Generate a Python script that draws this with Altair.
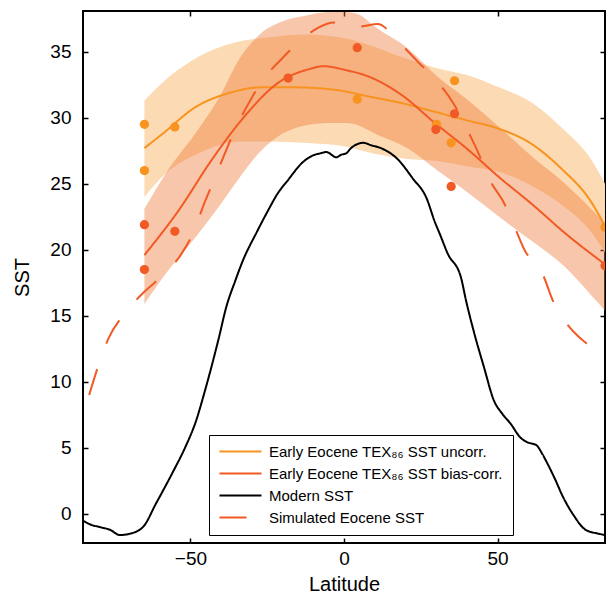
import altair as alt
import pandas as pd

# ---- data ----
unc_lat = [-65, -58, -47.5, -33.5, -24, -13, 0.7, 9.5, 20, 31, 40.5, 50.5, 61.5, 71.5, 80, 85]
unc_lo = [24.0, 25.8, 27.3, 28.2, 28.2, 28.1, 27.8, 27.3, 26.9, 26.7, 26.3, 25.9, 24.8, 23.3, 21.5, 19.8]
unc_hi = [31.3, 32.9, 34.6, 35.8, 36.1, 36.3, 36.0, 35.4, 34.5, 33.7, 33.2, 32.3, 31.1, 29.1, 27.0, 25.0]

bc_lat = [-65, -58, -47.5, -40, -34.5, -27, -20, -13, -5, 0.7, 5, 10, 20.5, 31, 40.5, 50.5, 61.5, 72, 80, 85]
bc_lo = [15.9, 18.2, 21.2, 23.5, 25.3, 27.5, 28.8, 29.4, 29.6, 29.6, 29.4, 28.8, 27.7, 25.9, 24.3, 22.5, 20.6, 18.7, 16.7, 15.4]
bc_hi = [23.1, 25.8, 29.1, 31.8, 34.3, 36.4, 37.3, 37.7, 38.0, 38.0, 37.8, 36.9, 35.3, 33.0, 31.3, 29.3, 27.0, 25.0, 23.2, 22.0]

of_lat = [-65, -59, -48.4, -37.7, -27, -16.3, -2.5, 8.2, 18.9, 29.6, 40, 50, 60.5, 71, 80, 85]
of_sst = [27.7, 28.8, 30.8, 31.85, 32.3, 32.3, 32.1, 31.6, 31.1, 30.45, 29.8, 29.2, 28.1, 26.1, 23.8, 21.8]

rf_lat = [-65, -53.8, -43.1, -32.4, -21.7, -11, -6.7, 0.7, 8.2, 18.9, 29.6, 40.3, 51, 61, 72.3, 85]
rf_sst = [19.6, 23.0, 26.8, 30.1, 32.6, 33.7, 33.9, 33.6, 33.1, 31.7, 29.6, 27.6, 25.4, 23.5, 21.2, 18.9]

mod_lat = [-85, -82.6, -79.4, -76.2, -73, -69.8, -65.5, -61.2, -55.9, -51.6, -48.4, -45.2, -40.9,
           -38.3, -35.5, -32.9, -28.5, -24.9, -21.5, -18.5, -13.1, -9.5, -7.8, -5.7, -2.5, -0.9, 0.7,
           2.3, 6.3, 9, 12, 17.3, 22.4, 26.9, 29.6, 31.2, 33.8, 38.1, 39.7, 42.4, 45.6, 48.8, 51.5,
           54.2, 57.4, 60, 61.6, 62.7, 64.8, 66.5, 68.6, 71.3, 74.5, 78.7, 83, 85]
mod_sst = [-0.5, -0.8, -1.0, -1.2, -1.6, -1.5, -1.0, 0.8, 3.1, 5.1, 6.9, 9.4, 13.2,
           15.7, 17.6, 19.2, 21.3, 22.9, 24.3, 25.2, 26.7, 27.2, 27.3, 27.4, 27.0, 27.2, 27.3,
           27.7, 28.1, 27.9, 27.7, 26.9, 25.4, 23.9, 22.1, 21.2, 19.7, 17.9, 16.2, 13.7, 11.1, 8.6, 7.6,
           6.85, 5.8, 5.4, 5.3, 5.2, 4.45, 3.7, 2.7, 1.3, 0.0, -1.2, -1.5, -1.6]

sim_lat = [-83, -79.9, -76.7, -71.9, -66, -59.4, -53.2, -48.9, -45.7, -42.3, -38.8, -35.3, -30.8,
           -26.3, -20.1, -13.9, -8.5, -5.7, -3, 0.7, 5, 11, 17.5, 24.2, 30.1, 35.6, 39.7, 44, 47.2,
           52.2, 55.8, 59.5, 62.2, 64.8, 68.3, 72.9, 76.5, 79.8, 85]
sim_sst = [9.0, 11.3, 13.3, 15.05, 16.6, 18.0, 19.6, 21.4, 23.4, 25.3, 27.3, 29.2, 31.2,
           32.9, 34.5, 35.9, 36.8, 37.1, 37.2, 36.9, 36.9, 37.1, 35.8, 34.2, 32.8, 31.1, 29.3, 27.2, 25.4,
           23.5, 21.6, 19.7, 19.2, 18.1, 16.0, 14.3, 13.4, 12.8, 12.5]

po_lat = [-65, -65, -55.1, 4.3, 30.1, 34.9, 36.0, 85]
po_sst = [29.5, 26.0, 29.3, 31.4, 29.5, 28.1, 32.8, 21.7]
pr_lat = [-65, -65, -55.1, -18.2, 4.3, 29.9, 36.0, 34.9, 85]
pr_sst = [21.9, 18.5, 21.4, 33.0, 35.3, 29.1, 30.3, 24.8, 18.8]

series = ["Early Eocene TEX\u2088\u2086 SST uncorr.",
          "Early Eocene TEX\u2088\u2086 SST bias-corr.",
          "Modern SST",
          "Simulated Eocene SST"]
x_ticks = [-50, 0, 50]
y_ticks = [0, 5, 10, 15, 20, 25, 30, 35]

ORANGE = "#F7931E"
RED = "#F15A24"
FONT = "Liberation Sans"

# ---- tables ----
df_unc = pd.DataFrame({"lat": unc_lat, "lo": unc_lo, "hi": unc_hi})
df_bc = pd.DataFrame({"lat": bc_lat, "lo": bc_lo, "hi": bc_hi})
parts = []
for name, la, ss in [(series[0], of_lat, of_sst), (series[1], rf_lat, rf_sst),
                     (series[2], mod_lat, mod_sst), (series[3], sim_lat, sim_sst)]:
    parts.append(pd.DataFrame({"lat": la, "sst": ss, "series": name}))
df_lines = pd.concat(parts, ignore_index=True)
df_po = pd.DataFrame({"lat": po_lat, "sst": po_sst})
df_pr = pd.DataFrame({"lat": pr_lat, "sst": pr_sst})

xscale = alt.Scale(domain=[-85, 85], nice=False, zero=False)
yscale = alt.Scale(domain=[-2.2, 38.08], nice=False, zero=False)

main_x = alt.Axis(values=x_ticks, title="Latitude", offset=-5, tickSize=5, domain=False, grid=False,
                  labelPadding=6, titlePadding=6, labelFontSize=19, titleFontSize=20,
                  tickColor="black", tickWidth=1.5, labelColor="black", titleColor="black",
                  titleFontWeight="normal", labelFont=FONT, titleFont=FONT)
main_y = alt.Axis(values=y_ticks, title="SST", offset=-5, tickSize=5, domain=False, grid=False,
                  labelPadding=12, titlePadding=17, labelFontSize=19, titleFontSize=20,
                  tickColor="black", tickWidth=1.5, labelColor="black", titleColor="black",
                  titleFontWeight="normal", labelFont=FONT, titleFont=FONT)
top_x = alt.Axis(values=x_ticks, orient="top", title=None, offset=-5, tickSize=5, domain=False,
                 grid=False, labels=False, tickColor="black", tickWidth=1.5)
right_y = alt.Axis(values=y_ticks, orient="right", title=None, offset=-5, tickSize=5, domain=False,
                   grid=False, labels=False, tickColor="black", tickWidth=1.5)

light = alt.Chart(df_unc).mark_area(color="#FCDAB4", interpolate="monotone", clip=True).encode(
    x=alt.X("lat:Q", scale=xscale, axis=main_x),
    y=alt.Y("lo:Q", scale=yscale, axis=main_y),
    y2="hi:Q",
)
salmon = alt.Chart(df_bc).mark_area(color="#EF7A39", opacity=0.43, interpolate="monotone", clip=True).encode(
    x=alt.X("lat:Q", scale=xscale, axis=None),
    y=alt.Y("lo:Q", scale=yscale, axis=None),
    y2="hi:Q",
)

legend = alt.Legend(
    title=None, orient="none", legendX=126, legendY=424, direction="vertical",
    symbolType="M-1.2,0H7.2", symbolSize=100, symbolStrokeWidth=2, labelOffset=36,
    labelFont=FONT, labelFontSize=15, labelColor="black",
    strokeColor="black", fillColor="white", padding=9, rowPadding=6, cornerRadius=0,
    labelLimit=500,
)
lines = alt.Chart(df_lines).mark_line(interpolate="monotone", clip=True).encode(
    x=alt.X("lat:Q", scale=xscale, axis=top_x),
    y=alt.Y("sst:Q", scale=yscale, axis=right_y),
    color=alt.Color("series:N", scale=alt.Scale(domain=series, range=[ORANGE, RED, "black", RED]),
                    legend=legend),
    strokeDash=alt.StrokeDash("series:N", scale=alt.Scale(domain=series,
                              range=[[1, 0], [1, 0], [1, 0], [27, 27]]), legend=legend),
    strokeWidth=alt.StrokeWidth("series:N", scale=alt.Scale(domain=series, range=[2, 2, 2, 2.5]),
                                legend=None),
    order="lat:Q",
)

pts_o = alt.Chart(df_po).mark_circle(color=ORANGE, opacity=1, size=85, clip=True).encode(
    x=alt.X("lat:Q", scale=xscale, axis=None),
    y=alt.Y("sst:Q", scale=yscale, axis=None),
)
pts_r = alt.Chart(df_pr).mark_circle(color=RED, opacity=1, size=85, clip=True).encode(
    x=alt.X("lat:Q", scale=xscale, axis=None),
    y=alt.Y("sst:Q", scale=yscale, axis=None),
)

chart = alt.layer(light, salmon, lines, pts_o, pts_r).resolve_axis(
    x="independent", y="independent"
).properties(
    width=522, height=532,
    autosize=alt.AutoSizeParams(type="none"),
    padding={"left": 75, "top": 3, "right": 2, "bottom": 50},
    background="white",
).configure(font=FONT).configure_view(stroke="black", strokeWidth=2)

chart.save("out.html", embed_options={"renderer": "svg", "actions": False})
